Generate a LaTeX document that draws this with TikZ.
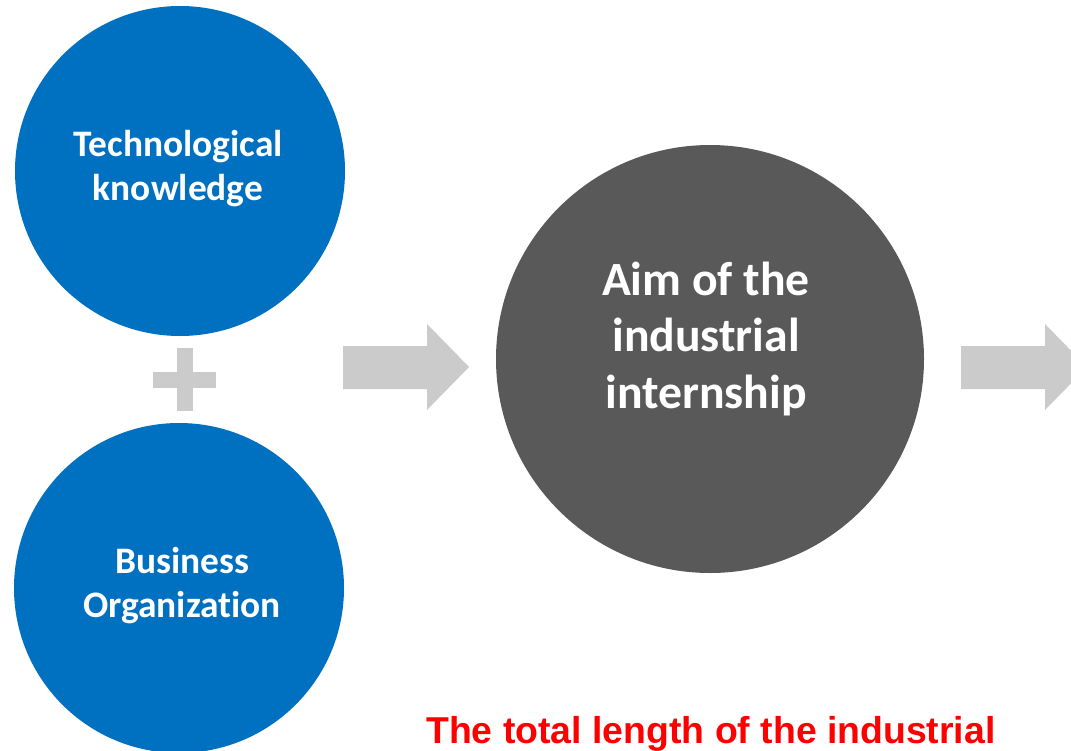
\documentclass[tikz,border=0pt]{standalone}
\usepackage{fontspec}
\setmainfont{Carlito}[Ligatures=NoCommon]
\newfontfamily\arialfont{Liberation Sans}
\definecolor{cblue}{HTML}{0070C0}
\definecolor{cdark}{HTML}{595959}
\definecolor{carrow}{HTML}{CBCBCB}
\definecolor{cred}{HTML}{FF0000}
\begin{document}
\begin{tikzpicture}[x=1pt,y=-1pt,
  disc/.style={circle,inner sep=0pt,minimum size=#1},
  bluetext/.style={text=white,font=\bfseries\fontsize{37.4}{43.5}\selectfont,align=center,inner sep=0pt,anchor=base},
  darktext/.style={text=white,font=\bfseries\fontsize{47.7}{56.5}\selectfont,align=center,inner sep=0pt,anchor=base},
  blockarrow/.style={fill=carrow}]
\useasboundingbox (0,0) rectangle (1071,750);
\clip (0,0) rectangle (1071,750);
\fill[white] (0,0) rectangle (1071,750);
% circles
\node[disc=330pt,fill=cblue] (tech) at (180,171) {};
\node[disc=330pt,fill=cblue] (bus) at (179,588) {};
\node[disc=428pt,fill=cdark] (aim) at (710,359) {};
% texts (base = last line baseline)
\node[bluetext] (techtxt) at (178,200) {Technological\\knowledge};
\node[bluetext] (bustxt) at (182,617) {Business\\Organization};
\node[darktext] (aimtxt) at (706,408) {Aim of the\\industrial\\internship};
% plus sign
\fill[carrow] (177,348) rectangle (193,411);
\fill[carrow] (153,372) rectangle (216,388);
% block arrows
\fill[blockarrow] (343,346) -- (427,346) -- (427,324) -- (469,367) -- (427,410) -- (427,389) -- (343,389) -- cycle;
\fill[blockarrow] (961,346) -- (1045,346) -- (1045,324) -- (1087,367) -- (1045,410) -- (1045,389) -- (961,389) -- cycle;
% red text
\node[anchor=base west,inner sep=0pt,text=cred,font=\arialfont\bfseries\fontsize{37.4}{44}\selectfont] (length) at (426,743) {The total length of the industrial};
\end{tikzpicture}
\end{document}
